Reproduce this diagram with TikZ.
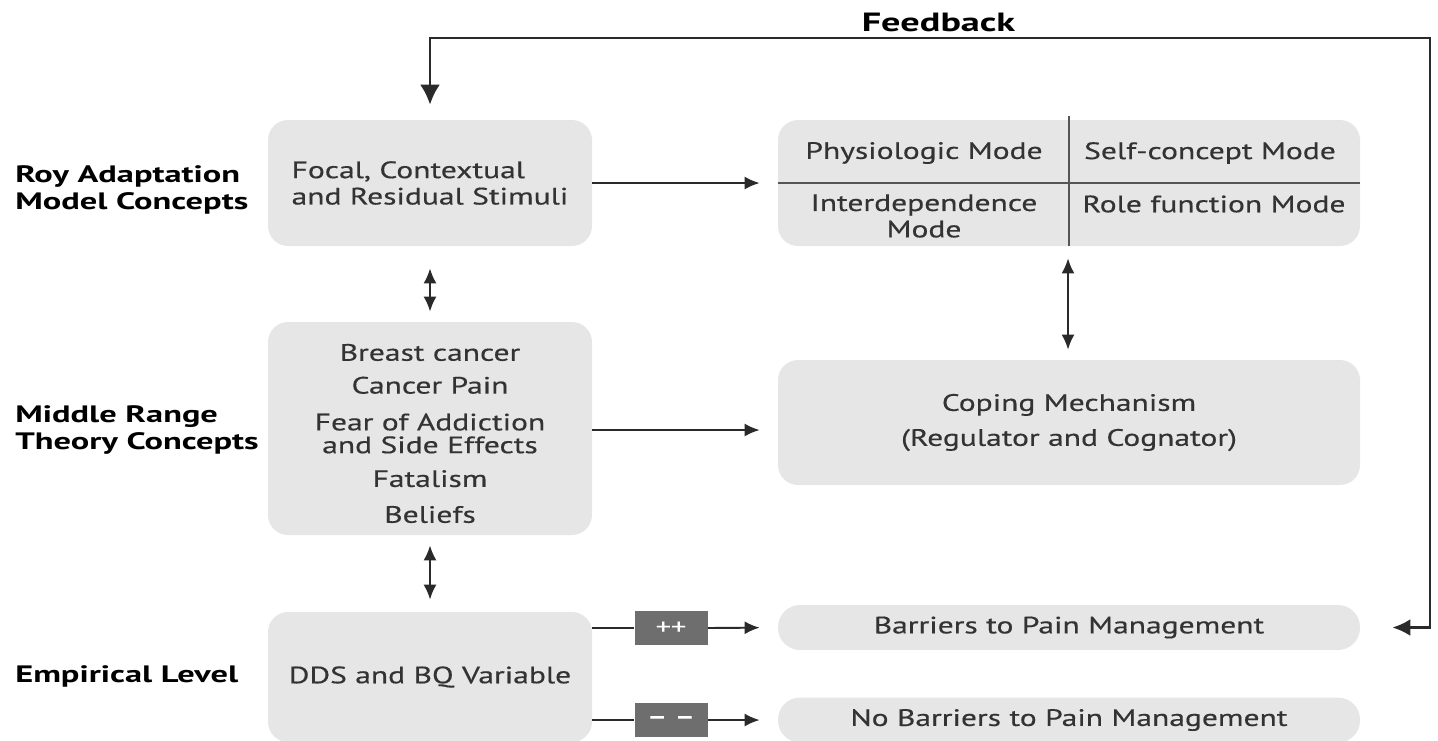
\documentclass[tikz,border=0pt]{standalone}
\usepackage{fontspec}
\setmainfont{PT Sans}[FakeStretch=1.2]
\newfontfamily\boxfont{PT Sans}[FakeStretch=1.33, FakeBold=0.4]
\newfontfamily\levelfont{PT Sans}[FakeStretch=1.45]
\usetikzlibrary{arrows.meta}
\definecolor{boxgray}{HTML}{E6E6E7}
\definecolor{txtgray}{HTML}{333333}
\definecolor{signgray}{HTML}{6E6E6E}
\definecolor{linegray}{HTML}{2A2A2A}

\begin{document}
\begin{tikzpicture}[
                box/.style={fill=boxgray, rounded corners=0.4cm, align=center, text=txtgray, inner sep=0pt, font=\boxfont\fontsize{13.5}{15}\selectfont},
                pill/.style={box, rounded corners=0.44cm, minimum width=11.64cm, minimum height=0.9cm},
                mode/.style={align=center, text=txtgray, font=\boxfont\fontsize{13.5}{15}\selectfont},
                level/.style={anchor=west, align=left, inner sep=0pt, font=\levelfont\bfseries\fontsize{13.5}{15.5}\selectfont},
                sign/.style={fill=signgray, text=white, minimum width=1.46cm, minimum height=0.68cm, font=\boxfont\fontsize{13}{14}\selectfont},
                arrow/.style={-{Latex[length=3mm, width=2.6mm]}, line width=1.1pt, draw=linegray},
                both/.style={{Latex[length=3mm, width=2.6mm]}-{Latex[length=3mm, width=2.6mm]}, line width=1.1pt, draw=linegray},
                loop/.style={{Latex[length=4mm, width=4mm]}-{Latex[length=3.6mm, width=3.4mm]}, line width=1.6pt, draw=linegray},
                divider/.style={line width=1.4pt, draw=linegray!80}]

                \clip (0,0) rectangle (28.76,-14.8);

                % level labels
                \node[level] (roy) at (0.3,-3.8) {Roy Adaptation\\Model Concepts};
                \node[level] (mrt) at (0.3,-8.6) {Middle Range\\Theory Concepts};
                \node[level] (emp) at (0.3,-13.52) {Empirical Level};

                % left column
                \node[box, align=left, minimum width=6.48cm, minimum height=2.52cm] (stim) at (8.6,-3.66) {Focal, Contextual\\and Residual Stimuli};
                \node[box, minimum width=6.48cm, minimum height=4.26cm] (mid) at (8.6,-8.57) {};
                \node[mode] (concepts) at (8.6,-8.67)
                    {Breast cancer\\[3.7pt] Cancer Pain\\[5.9pt] Fear of Addiction\\[-2pt]and Side Effects\\[4.2pt] Fatalism\\[5.4pt] Beliefs};
                \node[box, minimum width=6.48cm, minimum height=2.6cm] (dds) at (8.6,-13.54) {DDS and BQ Variable};

                % right column
                \node[box, minimum width=11.64cm, minimum height=2.52cm] (modes) at (21.38,-3.66) {};
                \node[mode] (physio) at (18.48,-3.06) {Physiologic Mode};
                \node[mode] (self) at (24.2,-3.06) {Self-concept Mode};
                \node[mode] (inter) at (18.48,-4.32) {Interdependence\\Mode};
                \node[mode] (role) at (24.28,-4.08) {Role function Mode};
                \draw[divider] ([yshift=0.08cm]modes.north) -- (modes.south);
                \draw[divider] (modes.west) -- (modes.east);

                \node[box, minimum width=11.64cm, minimum height=2.5cm] (coping) at (21.38,-8.45) {Coping Mechanism\\[4.9pt](Regulator and Cognator)};
                \node[pill] (barriers) at (21.38,-12.55) {Barriers to Pain Management};
                \node[pill] (nobarriers) at (21.38,-14.4) {No Barriers to Pain Management};

                % signs
                \node[sign] (plus) at (13.42,-12.56) {++};
                \node[sign] (minus) at (13.42,-14.4) {\textbf{\textendash\ \textendash}};

                % connectors
                \draw[arrow, shorten >=0.36cm] (stim.east) -- (stim.east -| modes.west);
                \draw[arrow, shorten >=0.36cm] ([yshift=-0.03cm]mid.east) -- ([yshift=-0.03cm]mid.east -| coping.west);
                \draw[both, shorten <=0.44cm, shorten >=0.2cm] (stim.south) -- (mid.north);
                \draw[both, shorten <=0.2cm, shorten >=0.24cm] (mid.south) -- (dds.north);
                \draw[both, shorten <=0.24cm, shorten >=0.2cm] ([xshift=-0.02cm]modes.south) -- ([xshift=-0.02cm]modes.south |- coping.north);
                \draw[line width=1.1pt, draw=linegray] (plus.west -| dds.east) -- (plus.west);
                \draw[arrow, shorten >=0.36cm] (plus.east) -- (barriers.west);
                \draw[line width=1.1pt, draw=linegray] (minus.west -| dds.east) -- (minus.west);
                \draw[arrow, shorten >=0.36cm] (minus.east) -- (nobarriers.west);

                % feedback loop
                \coordinate (fbtop) at (8.6,-0.76);
                \coordinate (fbright) at (28.6,-0.76);
                \draw[loop, shorten <=0.3cm, shorten >=0.64cm] (stim.north) -- (stim.north |- fbtop) -- (fbright) -- (fbright |- barriers.east) -- (barriers.east);
                \node[font=\levelfont\bfseries\fontsize{15}{17}\selectfont, inner sep=0pt] (fblabel) at (18.77,-0.44) {Feedback};
\end{tikzpicture}
\end{document}
